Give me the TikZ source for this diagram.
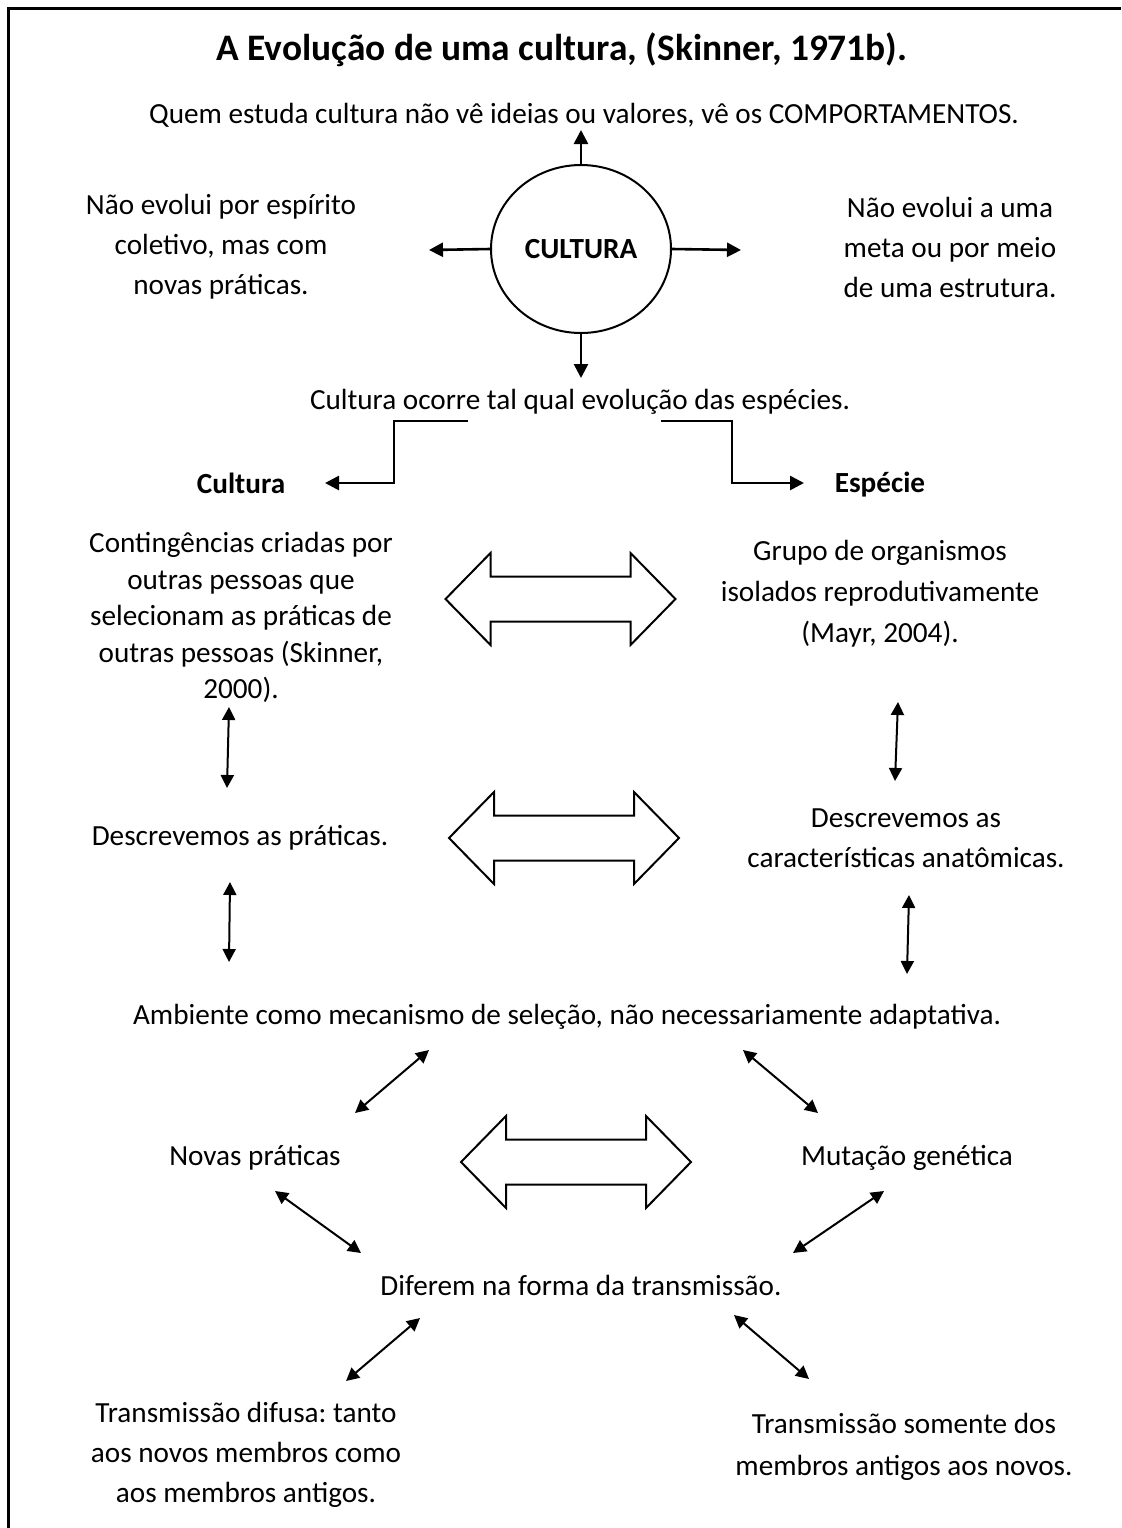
\documentclass[tikz,border=0pt]{standalone}
\usepackage{fontspec}
\setmainfont{Carlito}
\usepackage{tikz}
\usetikzlibrary{arrows.meta,shapes.geometric}
\frenchspacing

\begin{document}
\begin{tikzpicture}[x=0.5pt,y=-0.5pt,
        txt/.style={align=center,inner sep=0pt,font=\fontsize{14.6}{20}\selectfont},
        bold/.style={txt,font=\fontsize{14.6}{20}\selectfont\bfseries},
        arr/.style={line width=1.3pt,line join=miter,-{Triangle[length=7pt,width=7pt]}},
        dbl/.style={line width=1pt,{Triangle[length=6.5pt,width=6.5pt]}-{Triangle[length=6.5pt,width=6.5pt]}},
        frame/.style={line width=1.5pt,line join=miter},
        block/.style={line width=1pt,line join=miter}]
        \useasboundingbox (0,0) rectangle (1121,1528);

        % Draw frame
        \draw[frame] (8,1528) -- (8,8) -- (1121,8);

        % Add labels
        \node[txt,font=\fontsize{18.7}{22}\selectfont\bfseries] (title) at (562,50) {A Evolução de uma cultura, (Skinner, 1971b).};
        \node[txt] (quem) at (584,115) {Quem estuda cultura não vê ideias ou valores, vê os COMPORTAMENTOS.};
        \node[ellipse,draw,line width=1pt,minimum width=90pt,minimum height=84pt,inner sep=0pt,
            font=\fontsize{14.6}{20}\selectfont\bfseries] (cultura) at (581,249) {CULTURA};
        \node[txt] (espirito) at (221,247) {Não evolui por espírito\\coletivo, mas com\\novas práticas.};
        \node[txt] (meta) at (950,247) {Não evolui a uma\\meta ou por meio\\de uma estrutura.};
        \node[txt] (ocorre) at (580,402) {Cultura ocorre tal qual evolução das espécies.};
        \node[bold] (cultL) at (241,483) {Cultura};
        \node[bold] (especie) at (880,485) {Espécie};
        \node[txt,font=\fontsize{14.6}{18.25}\selectfont] (conting) at (241,617.5) {Contingências criadas por\\outras pessoas que\\selecionam as práticas de\\outras pessoas (Skinner,\\2000).};
        \node[txt,font=\fontsize{14.6}{20.5}\selectfont] (grupo) at (880,594) {Grupo de organismos\\isolados reprodutivamente\\(Mayr, 2004).};
        \node[txt] (descP) at (240,838) {Descrevemos as práticas.};
        \node[txt] (descA) at (906,838) {Descrevemos as\\características anatômicas.};
        \node[txt] (ambiente) at (567,1017) {Ambiente como mecanismo de seleção, não necessariamente adaptativa.};
        \node[txt] (novas) at (255,1158) {Novas práticas};
        \node[txt] (mutacao) at (907,1158) {Mutação genética};
        \node[txt] (diferem) at (581,1285) {Diferem na forma da transmissão.};
        \node[txt] (difusa) at (246,1455) {Transmissão difusa: tanto\\aos novos membros como\\aos membros antigos.};
        \node[txt,font=\fontsize{14.6}{21}\selectfont] (somente) at (904,1447) {Transmissão somente dos\\membros antigos aos novos.};

        % Arrows out of the circle
        \coordinate (upT) at (581,130);
        \coordinate (leftT) at (429,250);
        \coordinate (rightT) at (741,250);
        \coordinate (downT) at (581,378);
        \draw[arr] (cultura.north) -- (upT);
        \draw[arr] (cultura.west) -- (leftT);
        \draw[arr] (cultura.east) -- (rightT);
        \draw[arr] (cultura.south) -- (downT);

        % Elbow arrows
        \coordinate (elbL) at (468,421);
        \coordinate (elbLT) at (325,483);
        \coordinate (elbR) at (661,421);
        \coordinate (elbRT) at (804,483);
        \draw[arr] (elbL) -- ++(-74,0) |- (elbLT);
        \draw[arr] (elbR) -- ++(71,0) |- (elbRT);

        % Block arrows
        \foreach \cx/\cy in {560.5/599, 564/838, 576/1162} {
                \draw[block] (\cx-115,\cy) -- (\cx-70,\cy-46) -- (\cx-70,\cy-22.5) -- (\cx+70,\cy-22.5)
                    -- (\cx+70,\cy-46) -- (\cx+115,\cy) -- (\cx+70,\cy+46) -- (\cx+70,\cy+22.5)
                    -- (\cx-70,\cy+22.5) -- (\cx-70,\cy+46) -- cycle;
            }

        % Two-headed arrows
        \foreach \ax/\ay/\bx/\by [count=\k] in {229/707/227/788, 898/702/895/781, 230/882/229/962,
                909/895/907/974, 429/1050/355/1113, 743/1050/818/1113, 275/1191/361/1253,
                884/1191/793/1253, 420/1318/346/1381, 734/1315/809/1379} {
                \coordinate (p\k a) at (\ax,\ay);
                \coordinate (p\k b) at (\bx,\by);
                \draw[dbl] (p\k a) -- (p\k b);
            }

    \end{tikzpicture}
\end{document}
